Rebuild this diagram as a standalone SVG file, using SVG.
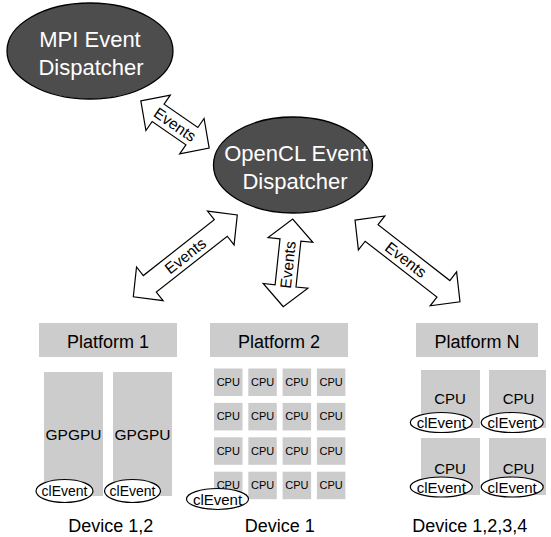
<svg xmlns="http://www.w3.org/2000/svg" width="551" height="537" viewBox="0 0 551 537">
<style>
.disp{fill:#4d4d4d;stroke:#000;stroke-width:1.3}
.dt{fill:#fff;font-family:"Liberation Sans",Arial,sans-serif;font-size:22px;text-anchor:middle}
.plat{fill:#cccccc}
.pt{fill:#000;font-family:"Liberation Sans",Arial,sans-serif;font-size:18px;text-anchor:middle}
.gp{fill:#000;font-family:"Liberation Sans",Arial,sans-serif;font-size:15.5px;text-anchor:middle}
.cpu{fill:#000;font-family:"Liberation Sans",Arial,sans-serif;font-size:11px;text-anchor:middle}
.cpub{fill:#000;font-family:"Liberation Sans",Arial,sans-serif;font-size:15px;text-anchor:middle}
.ev{fill:#fff;stroke:#000;stroke-width:1.2}
.evt{fill:#000;font-family:"Liberation Sans",Arial,sans-serif;font-size:14px;text-anchor:middle}
.evb{fill:#000;font-family:"Liberation Sans",Arial,sans-serif;font-size:15px;text-anchor:middle}
.arr{fill:#fff;stroke:#000;stroke-width:1.2;stroke-linejoin:miter}
.at{fill:#000;font-family:"Liberation Sans",Arial,sans-serif;font-size:15.5px;text-anchor:middle}
</style>
<g id="connectors">
  <g transform="translate(175,124.5) rotate(34.6)">
    <path class="arr" d="M-41.5,0 L-20.5,-21.5 L-20.5,-10.5 L20.5,-10.5 L20.5,-21.5 L41.5,0 L20.5,21.5 L20.5,10.5 L-20.5,10.5 L-20.5,21.5 Z"/>
    <text class="at" x="0" y="5.5">Events</text>
  </g>
  <g transform="translate(185.3,255.9) rotate(-38.2)">
    <path class="arr" d="M-66.15,0 L-45.15,-21.5 L-45.15,-10.5 L45.15,-10.5 L45.15,-21.5 L66.15,0 L45.15,21.5 L45.15,10.5 L-45.15,10.5 L-45.15,21.5 Z"/>
    <text class="at" x="0" y="5.5">Events</text>
  </g>
  <g transform="translate(288,262.9) rotate(-83.9)">
    <path class="arr" d="M-44.1,0 L-23.1,-22.5 L-23.1,-10.5 L23.1,-10.5 L23.1,-22.5 L44.1,0 L23.1,22.5 L23.1,10.5 L-23.1,10.5 L-23.1,22.5 Z"/>
    <text class="at" x="-2" y="5.5">Events</text>
  </g>
  <g transform="translate(407.5,260.9) rotate(37.9)">
    <path class="arr" d="M-66.5,0 L-45.5,-21.5 L-45.5,-10.5 L45.5,-10.5 L45.5,-21.5 L66.5,0 L45.5,21.5 L45.5,10.5 L-45.5,10.5 L-45.5,21.5 Z"/>
    <text class="at" x="-2" y="5.5">Events</text>
  </g>
</g>
<g id="mpi">
  <ellipse class="disp" cx="90" cy="51" rx="83" ry="48"/>
  <text class="dt" x="90" y="47">MPI Event</text>
  <text class="dt" x="91" y="75">Dispatcher</text>
</g>
<g id="opencl">
  <ellipse class="disp" cx="293" cy="165" rx="79.5" ry="48"/>
  <text class="dt" x="296" y="161">OpenCL Event</text>
  <text class="dt" x="295" y="189">Dispatcher</text>
</g>
<g id="platform1">
  <rect class="plat" x="39" y="323" width="138" height="34"/>
  <text class="pt" x="108" y="348">Platform 1</text>
  <rect class="plat" x="44" y="372" width="59" height="124"/>
  <rect class="plat" x="113" y="372" width="59" height="124"/>
  <text class="gp" x="73.5" y="440">GPGPU</text>
  <text class="gp" x="142.5" y="440">GPGPU</text>
  <ellipse class="ev" cx="64.5" cy="491" rx="28.5" ry="11.5"/>
  <text class="evt" x="64.5" y="496">clEvent</text>
  <ellipse class="ev" cx="132.5" cy="491" rx="28" ry="11.5"/>
  <text class="evt" x="132.5" y="496">clEvent</text>
  <text class="pt" x="110.8" y="531.5">Device 1,2</text>
</g>
<g id="platform2">
  <rect class="plat" x="210" y="323" width="138" height="34"/>
  <text class="pt" x="279" y="348">Platform 2</text>
  <g class="plat">
    <rect x="214" y="368.5" width="28.5" height="27.5"/><rect x="248.3" y="368.5" width="28.5" height="27.5"/><rect x="282.6" y="368.5" width="28.5" height="27.5"/><rect x="316.9" y="368.5" width="28.5" height="27.5"/>
    <rect x="214" y="402.9" width="28.5" height="27.5"/><rect x="248.3" y="402.9" width="28.5" height="27.5"/><rect x="282.6" y="402.9" width="28.5" height="27.5"/><rect x="316.9" y="402.9" width="28.5" height="27.5"/>
    <rect x="214" y="437.3" width="28.5" height="27.5"/><rect x="248.3" y="437.3" width="28.5" height="27.5"/><rect x="282.6" y="437.3" width="28.5" height="27.5"/><rect x="316.9" y="437.3" width="28.5" height="27.5"/>
    <rect x="214" y="471.7" width="28.5" height="27.5"/><rect x="248.3" y="471.7" width="28.5" height="27.5"/><rect x="282.6" y="471.7" width="28.5" height="27.5"/><rect x="316.9" y="471.7" width="28.5" height="27.5"/>
  </g>
  <g class="cpu">
    <text x="228.3" y="386">CPU</text><text x="262.6" y="386">CPU</text><text x="296.9" y="386">CPU</text><text x="331.2" y="386">CPU</text>
    <text x="228.3" y="420.4">CPU</text><text x="262.6" y="420.4">CPU</text><text x="296.9" y="420.4">CPU</text><text x="331.2" y="420.4">CPU</text>
    <text x="228.3" y="454.8">CPU</text><text x="262.6" y="454.8">CPU</text><text x="296.9" y="454.8">CPU</text><text x="331.2" y="454.8">CPU</text>
    <text x="228.3" y="489.2">CPU</text><text x="262.6" y="489.2">CPU</text><text x="296.9" y="489.2">CPU</text><text x="331.2" y="489.2">CPU</text>
  </g>
  <ellipse class="ev" cx="217.5" cy="499" rx="31" ry="10.5"/>
  <text class="evb" x="217.5" y="504.5">clEvent</text>
  <text class="pt" x="279.7" y="531.5">Device 1</text>
</g>
<g id="platformN">
  <rect class="plat" x="416" y="323" width="122" height="34"/>
  <text class="pt" x="477" y="348">Platform N</text>
  <rect class="plat" x="421" y="370" width="59" height="58"/>
  <rect class="plat" x="489" y="370" width="57" height="58"/>
  <rect class="plat" x="421" y="438" width="59" height="57"/>
  <rect class="plat" x="489" y="438" width="57" height="57"/>
  <text class="cpub" x="450" y="404">CPU</text>
  <text class="cpub" x="518.5" y="404">CPU</text>
  <text class="cpub" x="450" y="474">CPU</text>
  <text class="cpub" x="518.5" y="474">CPU</text>
  <ellipse class="ev" cx="441.3" cy="422.5" rx="31" ry="10"/>
  <text class="evb" x="441.3" y="428">clEvent</text>
  <ellipse class="ev" cx="512.2" cy="422.5" rx="31" ry="10"/>
  <text class="evb" x="512.2" y="428">clEvent</text>
  <ellipse class="ev" cx="441.3" cy="487" rx="31" ry="10"/>
  <text class="evb" x="441.3" y="492.5">clEvent</text>
  <ellipse class="ev" cx="512.2" cy="487" rx="31" ry="10"/>
  <text class="evb" x="512.2" y="492.5">clEvent</text>
  <text class="pt" x="469.7" y="531.5">Device 1,2,3,4</text>
</g>
</svg>
